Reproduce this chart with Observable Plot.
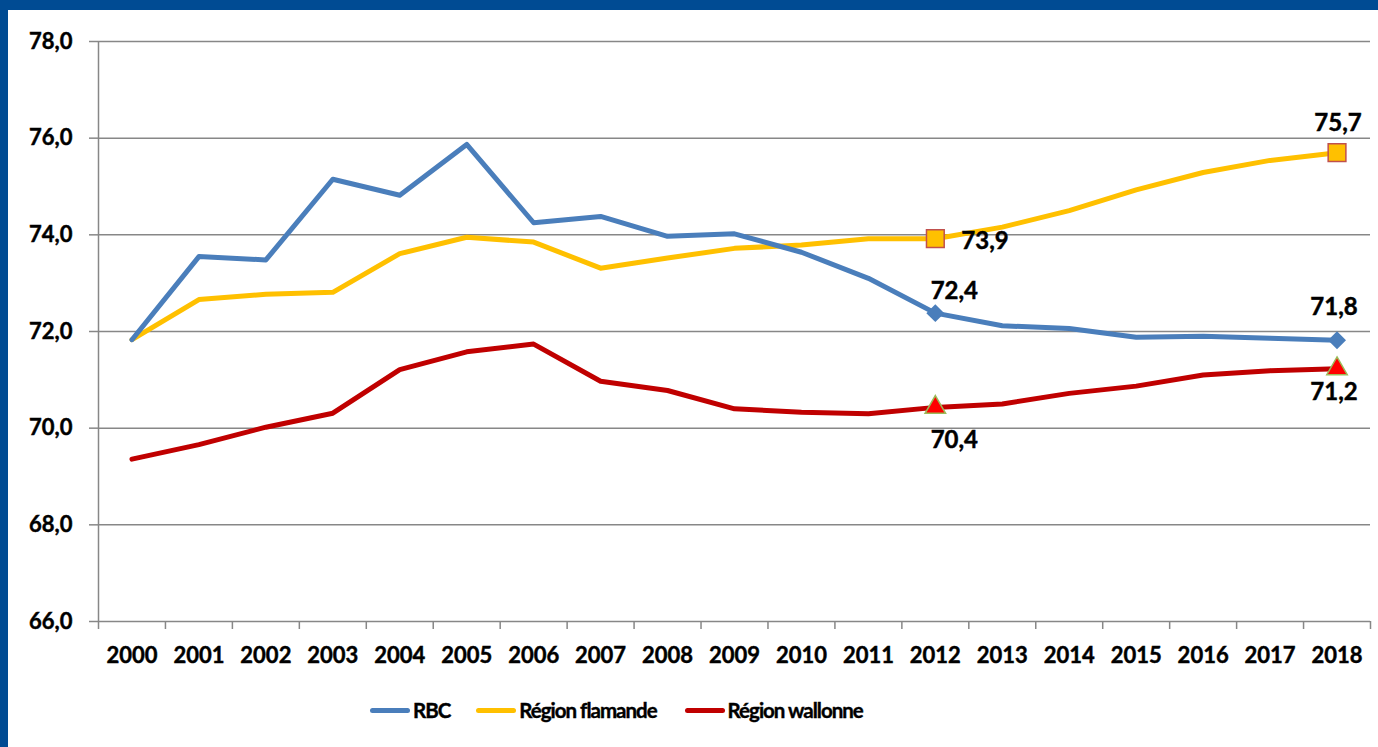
<!DOCTYPE html>
<html>
<head>
<meta charset="utf-8">
<script src="https://cdn.jsdelivr.net/npm/d3@7"></script>
<script src="https://cdn.jsdelivr.net/npm/@observablehq/plot@0.6"></script>
<style>
  html, body { margin: 0; padding: 0; background: #fff; }
  #wrap { position: relative; width: 1378px; height: 747px; overflow: hidden; font-family: Lato, "Open Sans", sans-serif; }
  #topbar { position: absolute; left: 0; top: 0; width: 1378px; height: 10px; background: #004b93; }
  #leftbar { position: absolute; left: 0; top: 0; width: 8px; height: 747px; background: #004b93; }
  #chart { position: absolute; left: 0; top: 0; }
  #chart svg text { stroke: #000; stroke-width: 0.45px; }
  #legend { position: absolute; left: 370px; top: 698px; display: flex; align-items: center; font: bold 20.5px Lato, sans-serif; letter-spacing: -1px; color: #000; -webkit-text-stroke: 0.4px #000; }
  .item { display: flex; align-items: center; }
  .sw { width: 40px; height: 5px; border-radius: 3px; margin-right: 3px; }
</style>
</head>
<body>
<div id="wrap">
  <div id="chart"></div>
  <div id="topbar"></div>
  <div id="leftbar"></div>
  <div id="legend"></div>
</div>
<script>
const years = [2000,2001,2002,2003,2004,2005,2006,2007,2008,2009,2010,2011,2012,2013,2014,2015,2016,2017,2018];
const rbc = [71.83,73.55,73.48,75.15,74.82,75.87,74.25,74.38,73.97,74.02,73.64,73.10,72.38,72.12,72.06,71.88,71.90,71.86,71.82];
const flamande = [71.83,72.66,72.77,72.81,73.61,73.95,73.85,73.31,73.52,73.72,73.79,73.92,73.92,74.16,74.50,74.93,75.29,75.54,75.70];
const wallonne = [69.36,69.66,70.02,70.31,71.21,71.58,71.74,70.97,70.78,70.40,70.33,70.30,70.43,70.50,70.72,70.87,71.10,71.19,71.23];
const yTicks = [66,68,70,72,74,76,78];
const seriesNames = ["RBC","Région flamande","Région wallonne"];
const seriesColors = ["#4a7ebb","#ffc000","#c00000"];
const labelYears = [2012, 2018];

const fmt = v => v.toFixed(1).replace(".", ",");
const toRows = (vals, name) => years.map((yr, i) => ({year: yr, value: vals[i], series: name}));
const rowsR = toRows(rbc, seriesNames[0]);
const rowsF = toRows(flamande, seriesNames[1]);
const rowsW = toRows(wallonne, seriesNames[2]);
const pick = rows => rows.filter(d => labelYears.includes(d.year));
const bounds = years.map(y => y - 0.5).concat([years[years.length-1] + 0.5]);

const font = "Lato, 'Open Sans', sans-serif";
const lineOpts = {x: "year", y: "value", strokeWidth: 5, strokeLinejoin: "round", strokeLinecap: "round"};
const lab = {x: "year", y: "value", text: d => fmt(d.value), fontSize: 24, fontWeight: "bold", fill: "#000"};

const plot = Plot.plot({
  width: 1378,
  height: 680,
  marginLeft: 98,
  marginRight: 8,
  marginTop: 41,
  marginBottom: 59,
  style: {fontFamily: font, fontWeight: "bold", fontSize: "22px", color: "#000", background: "transparent", overflow: "visible"},
  x: {domain: [years[0] - 0.5, years[years.length-1] + 0.5]},
  y: {domain: [66, 78]},
  marks: [
    Plot.gridY(yTicks, {stroke: "#878787", strokeOpacity: 1, strokeWidth: 1.5}),
    Plot.ruleX([years[0] - 0.5], {stroke: "#878787", strokeWidth: 1.5}),
    Plot.axisY(yTicks, {tickSize: 9, tickPadding: 17, stroke: "#878787", strokeWidth: 1.5, tickFormat: fmt, fontSize: 22, fontWeight: "bold", label: null}),
    Plot.axisX(bounds, {tickSize: 8, stroke: "#878787", strokeWidth: 1.5, tickFormat: () => "", label: null}),
    Plot.axisX(years, {tickSize: 0, tickPadding: 26, tickFormat: d => String(d), fontSize: 22, fontWeight: "bold", label: null}),
    Plot.line(rowsW, {...lineOpts, stroke: seriesColors[2]}),
    Plot.line(rowsF, {...lineOpts, stroke: seriesColors[1]}),
    Plot.line(rowsR, {...lineOpts, stroke: seriesColors[0]}),
    Plot.dot(pick(rowsR), {x: "year", y: "value", symbol: "diamond2", r: 8.1, fill: seriesColors[0], stroke: "none"}),
    Plot.dot(pick(rowsF), {x: "year", y: "value", symbol: "square", r: 10, fill: seriesColors[1], stroke: "#c0504d", strokeWidth: 1.5}),
    Plot.dot(pick(rowsW), {x: "year", y: "value", symbol: "triangle", r: 7.6, fill: "#ff0000", stroke: "#9bbb59", strokeWidth: 1.5}),
    // labels
    Plot.text(pick(rowsR).slice(0,1), {...lab, dx: 19, dy: -22}),
    Plot.text(pick(rowsR).slice(1), {...lab, dx: -3, dy: -33}),
    Plot.text(pick(rowsF).slice(0,1), {...lab, dx: 26, dy: 3, textAnchor: "start"}),
    Plot.text(pick(rowsF).slice(1), {...lab, dx: 1, dy: -29}),
    Plot.text(pick(rowsW).slice(0,1), {...lab, dx: 19, dy: 33}),
    Plot.text(pick(rowsW).slice(1), {...lab, dx: -3, dy: 24})
  ]
});
document.getElementById("chart").appendChild(plot);

const legend = document.getElementById("legend");
const gaps = [26, 28, 0];
seriesNames.forEach((name, i) => {
  const item = document.createElement("div");
  item.className = "item";
  item.style.marginRight = gaps[i] + "px";
  const sw = document.createElement("div");
  sw.className = "sw";
  sw.style.background = seriesColors[i];
  const tx = document.createElement("span");
  tx.textContent = name;
  item.appendChild(sw);
  item.appendChild(tx);
  legend.appendChild(item);
});
</script>
</body>
</html>
